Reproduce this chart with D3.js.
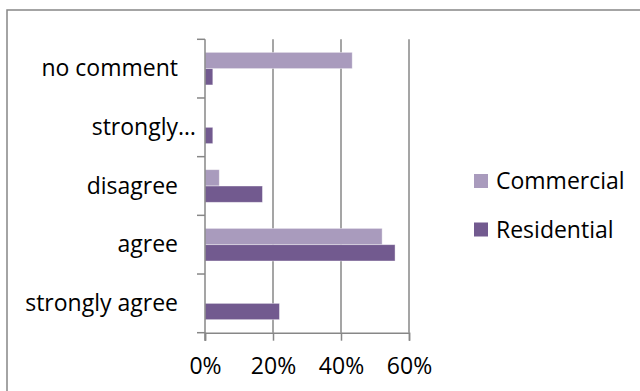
<!DOCTYPE html>
<html><head><meta charset="utf-8">
<script src="https://cdn.jsdelivr.net/npm/d3@7/dist/d3.min.js"></script>
<style>
html,body{margin:0;padding:0;background:#fff;}
svg{display:block;font-family:"Open Sans",sans-serif;}
</style></head>
<body>
<svg id="chart" width="640" height="391"></svg>
<script>
// Data (top-to-bottom order as drawn)
const categories = ["no comment", "strongly…", "disagree", "agree", "strongly agree"];
const seriesNames = ["Commercial", "Residential"];
const commercial = [0.433, 0, 0.042, 0.521, 0];
const residential = [0.023, 0.023, 0.169, 0.559, 0.219];
const xTicks = [0, 0.2, 0.4, 0.6];

const colors = {Commercial: "#A99BBD", Residential: "#725A8F"};
const grid = "#878787";

const svg = d3.select("#chart");
const fontSize = 23;

// frame
svg.append("rect").attr("x", 7).attr("y", 10).attr("width", 700).attr("height", 500)
  .attr("fill", "none").attr("stroke", grid).attr("stroke-width", 1.5);

const x0 = 205, x1 = 409, yTop = 39.3, yBot = 332.7;
const x = d3.scaleLinear().domain([0, 0.6]).range([x0, x1]);
const y = d3.scaleBand().domain(categories).range([yTop, yBot]).padding(0);
const bw = y.bandwidth();
const inner = d3.scaleBand().domain(seriesNames).range([bw * 0.222, bw * 0.778]).padding(0);

// vertical gridlines
svg.append("g").selectAll("line").data(xTicks.slice(1)).join("line")
  .attr("x1", d => x(d)).attr("x2", d => x(d))
  .attr("y1", yTop).attr("y2", yBot)
  .attr("stroke", grid).attr("stroke-width", 1.5);

// x axis
const xAxis = svg.append("g").attr("transform", `translate(0,${yBot})`)
  .call(d3.axisBottom(x).tickValues(xTicks).tickFormat(d3.format(".0%")).tickSize(8).tickPadding(17));
xAxis.select(".domain").attr("stroke", grid).attr("stroke-width", 1.5);
xAxis.selectAll(".tick line").attr("stroke", grid).attr("stroke-width", 1.5);
xAxis.selectAll("text").attr("font-family", "Open Sans").attr("font-size", fontSize).attr("fill", "#000");

// bars
const rows = categories.map((c, i) => ({cat: c, vals: [
  {s: "Commercial", v: commercial[i]}, {s: "Residential", v: residential[i]}]}));
const g = svg.append("g");
rows.forEach(r => {
  g.selectAll(null).data(r.vals.filter(d => d.v > 0)).join("rect")
    .attr("x", x(0))
    .attr("y", d => y(r.cat) + inner(d.s))
    .attr("width", d => x(d.v) - x(0))
    .attr("height", inner.bandwidth())
    .attr("fill", d => colors[d.s])
    .attr("stroke", "#ffffff").attr("stroke-opacity", 0.5).attr("stroke-width", 0.8);
});

// y axis
const yAxis = svg.append("g").attr("transform", `translate(${x0},0)`)
  .call(d3.axisLeft(y).tickSize(0).tickFormat(""));
yAxis.select(".domain").remove();
svg.append("line").attr("x1", x0).attr("x2", x0).attr("y1", yTop).attr("y2", yBot + 8)
  .attr("stroke", grid).attr("stroke-width", 1.5);
const bounds = categories.map(c => y(c)).concat([yBot]);
svg.append("g").selectAll("line").data(bounds).join("line")
  .attr("x1", x0 - 8).attr("x2", x0).attr("y1", d => d).attr("y2", d => d)
  .attr("stroke", grid).attr("stroke-width", 1.5);

// category labels
const labelX = 178;
categories.forEach(c => {
  const t = svg.append("text")
    .attr("y", y(c) + bw / 2 + 7.5)
    .attr("font-size", fontSize).attr("fill", "#000");
  if (c.endsWith("…")) {
    const base = c.slice(0, -1);
    t.text(base);
    const w = t.node().getComputedTextLength();
    t.text(c).attr("x", labelX - w).attr("text-anchor", "start");
  } else {
    t.text(c).attr("x", labelX).attr("text-anchor", "end");
  }
});

// legend
const legY = [181, 229.5];
seriesNames.forEach((s, i) => {
  svg.append("rect").attr("x", 474).attr("y", legY[i] - 7).attr("width", 14).attr("height", 14)
    .attr("fill", colors[s]);
  svg.append("text").attr("x", 496).attr("y", legY[i] + 8)
    .attr("font-size", fontSize).attr("fill", "#000").text(s);
});
</script>
</body></html>
